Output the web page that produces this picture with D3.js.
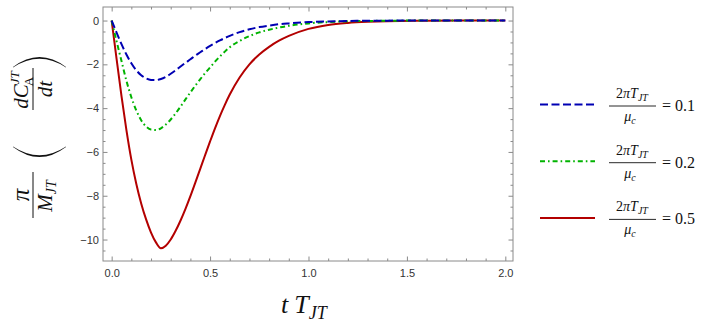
<!DOCTYPE html>
<html>
<head>
<meta charset="utf-8">
<script src="https://cdn.jsdelivr.net/npm/d3@7"></script>
<style>
  body { margin: 0; background: #fff; }
  svg { display: block; }
  .tick text { font-family: "Liberation Sans", Arial, sans-serif; font-size: 11px; fill: #333; }
  .tick line, .domain { stroke: #8a8a8a; }
</style>
</head>
<body>
<div id="chart"></div>
<script>
// time grid (t T_JT) and the three curves
const times = [0, 0.025, 0.05, 0.075, 0.1, 0.125, 0.15, 0.175, 0.2, 0.225, 0.25, 0.275, 0.3, 0.325, 0.35, 0.375, 0.4, 0.425, 0.45, 0.475, 0.5, 0.525, 0.55, 0.575, 0.6,
  0.65, 0.7, 0.75, 0.8, 0.85, 0.9, 1.0, 1.1, 1.2, 1.3, 1.4, 1.6, 1.8, 2.0];
const ratio01 = [0, -0.55, -1.08, -1.55, -1.95, -2.27, -2.5, -2.64, -2.71, -2.72, -2.67, -2.57, -2.43, -2.27, -2.1, -1.93, -1.77, -1.6, -1.45, -1.3, -1.16, -1.03, -0.91, -0.8, -0.7,
  -0.53, -0.4, -0.3, -0.23, -0.17, -0.13, -0.07, -0.04, -0.02, -0.01, -0.005, 0, 0, 0];
const ratio02 = [0, -0.95, -1.85, -2.75, -3.5, -4.1, -4.55, -4.84, -4.98, -5.0, -4.92, -4.75, -4.52, -4.24, -3.93, -3.6, -3.28, -2.97, -2.68, -2.4, -2.14, -1.88, -1.64, -1.42, -1.22,
  -0.93, -0.71, -0.54, -0.42, -0.32, -0.24, -0.13, -0.07, -0.035, -0.02, -0.01, 0, 0, 0];
const ratio05 = [0, -1.75, -3.45, -5.0, -6.35, -7.45, -8.35, -9.08, -9.68, -10.13, -10.4, -10.28, -10.0, -9.6, -9.13, -8.6, -8.02, -7.4, -6.77, -6.14, -5.52, -4.92, -4.36, -3.85, -3.38,
  -2.6, -2.0, -1.55, -1.2, -0.92, -0.7, -0.38, -0.2, -0.11, -0.06, -0.03, -0.01, 0, 0];

const legendValues = ["0.1", "0.2", "0.5"];
const xTicks = [0, 0.5, 1.0, 1.5, 2.0];
const yTicks = [0, -2, -4, -6, -8, -10];

(function () {
  const width = 714, height = 327;
  const frame = {left: 103, right: 513, top: 7, bottom: 261};
  const serif = "'Liberation Serif', 'DejaVu Serif', serif";

  const x = d3.scaleLinear().domain([-0.044, 2.039]).range([frame.left, frame.right]);
  const y = d3.scaleLinear().domain([0.618, -10.98]).range([frame.top, frame.bottom]);

  const svg = d3.select("#chart").append("svg")
    .attr("width", width)
    .attr("height", height);

  const series = [
    {values: ratio01, color: "#0000b3", dash: "8,3.5"},
    {values: ratio02, color: "#00b300", dash: "5,3,1.6,3"},
    {values: ratio05, color: "#b30000", dash: null}
  ];

  // minor tick values
  const xMinor = d3.range(0, 2.0001, 0.1).map(v => +v.toFixed(2)).filter(v => !xTicks.includes(v));
  const yMinor = d3.range(0, -10.9, -0.5).map(v => +v.toFixed(2)).filter(v => !yTicks.includes(v));

  const fmtX = d3.format(".1f");
  const fmtY = v => v < 0 ? "\u2212" + Math.abs(v) : String(v);

  function frameAxis(axis, pos, vals, size, fmt, pad) {
    svg.append("g").attr("transform", pos)
      .call(axis.tickValues(vals).tickFormat(fmt || "").tickSize(-size).tickPadding(pad || 3).tickSizeOuter(0))
      .call(g => g.select(".domain").remove());
  }

  frameAxis(d3.axisBottom(x), `translate(0,${frame.bottom})`, xTicks, 4.5, fmtX, 8);
  frameAxis(d3.axisBottom(x), `translate(0,${frame.bottom})`, xMinor, 2.5);
  frameAxis(d3.axisTop(x), `translate(0,${frame.top})`, xTicks, 4.5);
  frameAxis(d3.axisTop(x), `translate(0,${frame.top})`, xMinor, 2.5);
  frameAxis(d3.axisLeft(y), `translate(${frame.left},0)`, yTicks, 4.5, fmtY, 4);
  frameAxis(d3.axisLeft(y), `translate(${frame.left},0)`, yMinor, 2.5);
  frameAxis(d3.axisRight(y), `translate(${frame.right},0)`, yTicks, 4.5);
  frameAxis(d3.axisRight(y), `translate(${frame.right},0)`, yMinor, 2.5);

  svg.append("rect")
    .attr("x", frame.left).attr("y", frame.top)
    .attr("width", frame.right - frame.left).attr("height", frame.bottom - frame.top)
    .attr("fill", "none").attr("stroke", "#8a8a8a").attr("stroke-width", 1);

  const line = d3.line()
    .x((d, i) => x(times[i]))
    .y(d => y(d))
    .curve(d3.curveMonotoneX);

  svg.append("g").selectAll("path")
    .data(series.slice().reverse())
    .enter().append("path")
    .attr("d", d => line(d.values))
    .attr("fill", "none")
    .attr("stroke", d => d.color)
    .attr("stroke-width", 2)
    .attr("stroke-dasharray", d => d.dash);

  function mtext(parent, size) {
    return parent.append("text")
      .style("font-family", serif)
      .attr("font-size", size)
      .attr("fill", "#111");
  }

  // x label
  const xl = mtext(svg, 26).attr("x", 281).attr("y", 313).attr("font-style", "italic");
  xl.append("tspan").text("t");
  xl.append("tspan").attr("dx", 6).text("T");
  xl.append("tspan").attr("font-size", 18).attr("dy", 6).text("JT");

  // y label, drawn in a rotated frame
  const yl = svg.append("g").attr("transform", "translate(33,137) rotate(-90)");
  mtext(yl, 25).attr("x", -58).attr("y", -4).attr("text-anchor", "middle")
    .attr("font-style", "italic").text("\u03c0");
  yl.append("line").attr("x1", -81).attr("x2", -35).attr("y1", 0).attr("y2", 0)
    .attr("stroke", "#111").attr("stroke-width", 1);
  const den = mtext(yl, 21).attr("x", -59).attr("y", 19).attr("text-anchor", "middle")
    .attr("font-style", "italic");
  den.append("tspan").text("M");
  den.append("tspan").attr("font-size", 14).attr("dy", 4).text("JT");

  // big parentheses (crescents)
  function paren(xOuter, dir) {
    const top = -20, bot = 33, mid = 6.5;
    const a = xOuter + 10 * dir;
    const co = a - 20 * dir, ci = a - 17 * dir;
    return `M${a},${top} Q${co},${mid} ${a},${bot} L${a + 0.5 * dir},${bot} Q${ci},${mid} ${a + 0.5 * dir},${top} Z`;
  }
  yl.append("path").attr("d", paren(-20, 1)).attr("fill", "#111");
  yl.append("path").attr("d", paren(80, -1)).attr("fill", "#111");

  const num = mtext(yl, 21).attr("x", 47).attr("y", -5).attr("text-anchor", "middle")
    .attr("font-style", "italic");
  num.append("tspan").text("dC");
  num.append("tspan").attr("font-size", 13).attr("dy", -9).text("JT");
  num.append("tspan").attr("font-size", 13).attr("font-style", "normal").attr("dx", -15).attr("dy", 14).text("A");
  yl.append("line").attr("x1", 27).attr("x2", 69).attr("y1", 0).attr("y2", 0)
    .attr("stroke", "#111").attr("stroke-width", 1);
  mtext(yl, 21).attr("x", 48).attr("y", 19).attr("text-anchor", "middle")
    .attr("font-style", "italic").text("dt");

  // legend
  const legend = svg.append("g").selectAll("g")
    .data(series)
    .enter().append("g")
    .attr("transform", (d, i) => `translate(0,${106 + i * 56.7})`);

  legend.append("line")
    .attr("x1", 540).attr("x2", 595).attr("y1", -1.5).attr("y2", -1.5)
    .attr("stroke", d => d.color).attr("stroke-width", 2)
    .attr("stroke-dasharray", d => d.dash);

  legend.each(function (d, i) {
    const g = d3.select(this);
    const lnum = mtext(g, 14).attr("x", 632).attr("y", -8).attr("text-anchor", "middle");
    lnum.append("tspan").text("2");
    lnum.append("tspan").attr("font-style", "italic").text("\u03c0T");
    lnum.append("tspan").attr("font-style", "italic").attr("font-size", 10).attr("dy", 3).text("JT");

    g.append("line")
      .attr("x1", 609).attr("x2", 656).attr("y1", 0).attr("y2", 0)
      .attr("stroke", "#111").attr("stroke-width", 0.9);

    const lden = mtext(g, 14).attr("x", 630).attr("y", 15).attr("text-anchor", "middle");
    lden.append("tspan").attr("font-style", "italic").text("\u03bc");
    lden.append("tspan").attr("font-style", "italic").attr("font-size", 10).attr("dy", 3).text("c");

    mtext(g, 16).attr("x", 662).attr("y", 5).text("= " + legendValues[i]);
  });
})();
</script>
</body>
</html>
